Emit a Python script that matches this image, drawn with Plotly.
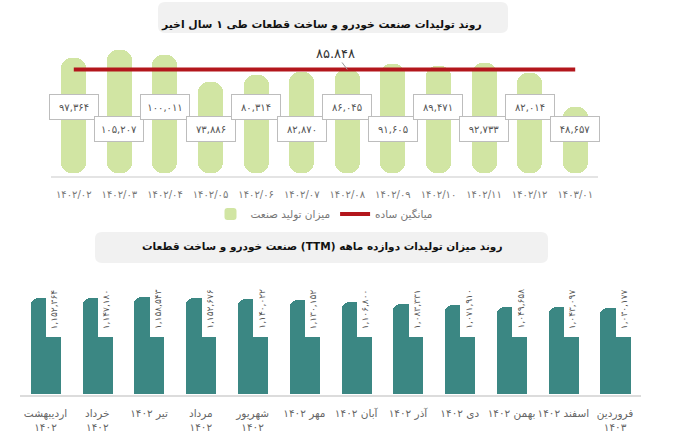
import plotly.graph_objects as go

W, H = 684, 444

# ---------------- data ----------------
top_dates = ["1402/02", "1402/03", "1402/04", "1402/05", "1402/06", "1402/07",
             "1402/08", "1402/09", "1402/10", "1402/11", "1402/12", "1403/01"]
top_values = [97364, 105207, 100011, 73886, 80314, 82870,
              86045, 91605, 89471, 92733, 82014, 48657]
avg_value = 85848
avg_label = "85.848"

ttm_months = ["اردیبهشت<br>1402", "خرداد<br>1402", "تیر 1402", "مرداد<br>1402",
              "شهریور<br>1402", "مهر 1402", "آبان 1402", "آذر 1402", "دی 1402",
              "بهمن 1402", "اسفند 1402", "فروردین<br>1403"]
ttm_values = [1152364, 1147180, 1158543, 1152676, 1140022, 1130152,
              1106800, 1083331, 1071910, 1049658, 1043097, 1030177]

title_top = "روند تولیدات صنعت خودرو و ساخت قطعات طی 1 سال اخیر"
title_bottom = "روند میزان تولیدات دوازده ماهه (TTM) صنعت خودرو و ساخت قطعات"
legend_bar = "میزان تولید صنعت"
legend_line = "میانگین ساده"

# ---------------- helpers ----------------
FA = str.maketrans("0123456789", "۰۱۲۳۴۵۶۷۸۹")


def fa(s):
    return str(s).translate(FA)


def fa_num(n):
    return fa(format(n, ","))


def rtl(s):
    return "\u202b" + s + "\u202c"


def px(x):
    return x / W


def py(y):
    return 1 - y / H


def rounded_rect(x0, y0, x1, y1, r):
    rx, ry = r / W, r / H
    X0, X1, Y0, Y1 = px(x0), px(x1), py(y0), py(y1)
    return (f"M {X0+rx},{Y0} L {X1-rx},{Y0} Q {X1},{Y0} {X1},{Y0-ry} "
            f"L {X1},{Y1+ry} Q {X1},{Y1} {X1-rx},{Y1} L {X0+rx},{Y1} "
            f"Q {X0},{Y1} {X0},{Y1+ry} L {X0},{Y0-ry} Q {X0},{Y0} {X0+rx},{Y0} Z")


FONT = "DejaVu Sans, sans-serif"
GREEN = "#d1e5a3"
RED = "#b3161c"
TEAL = "#3b8783"

top_cats = [fa(d) for d in top_dates]
bot_cats = [fa(m) for m in ttm_months]

BAR_FLOOR = -16900      # visual stub so bars start at the axis
NOTCH_BASE = 684000     # bottom of the white label notch in the TTM bars

fig = go.Figure()

# top chart bars
fig.add_trace(go.Bar(
    x=top_cats, y=[v - BAR_FLOOR for v in top_values], base=BAR_FLOOR,
    customdata=top_values, hovertemplate="%{customdata}<extra></extra>",
    width=0.55, marker=dict(color=GREEN, cornerradius=10, line=dict(width=0)),
    name=rtl(legend_bar), xaxis="x", yaxis="y"))

# average line
fig.add_trace(go.Scatter(
    x=top_cats, y=[avg_value] * len(top_cats), mode="lines",
    line=dict(color=RED, width=4), name=rtl(legend_line), xaxis="x", yaxis="y"))

# bottom chart bars
fig.add_trace(go.Bar(
    x=bot_cats, y=ttm_values, width=0.58, offset=-0.29,
    marker=dict(color=TEAL, cornerradius=8, line=dict(width=0)),
    showlegend=False, xaxis="x2", yaxis="y2"))

# white notch holding the labels
fig.add_trace(go.Bar(
    x=bot_cats, y=[v - NOTCH_BASE + 40000 for v in ttm_values], base=NOTCH_BASE,
    width=0.33, offset=0.005, hoverinfo="skip",
    marker=dict(color="white", line=dict(width=0)),
    showlegend=False, xaxis="x2", yaxis="y2"))

annotations = []

# titles
annotations.append(dict(text="<b>" + rtl(fa(title_top)) + "</b>", x=px(321), y=py(16),
                        xref="paper", yref="paper", showarrow=False,
                        font=dict(family=FONT, size=10.8, color="#111")))
annotations.append(dict(text="<b>" + rtl(title_bottom) + "</b>", x=px(322), y=py(246),
                        xref="paper", yref="paper", showarrow=False,
                        font=dict(family=FONT, size=10.5, color="#111")))

# top value labels
for i, (c, v) in enumerate(zip(top_cats, top_values)):
    annotations.append(dict(
        text=fa_num(v), x=c, y=0.507 if i % 2 == 0 else 0.25,
        xref="x", yref="y domain", showarrow=False,
        bgcolor="white", bordercolor="#bdbdbd", borderwidth=1, borderpad=5,
        width=38, height=14,
        font=dict(family=FONT, size=10, color="#555")))

# average label
annotations.append(dict(
    text=fa(avg_label), x=top_cats[6], y=avg_value, xref="x", yref="y",
    showarrow=True, arrowhead=0, arrowwidth=1, arrowcolor="#999",
    ax=-12, ay=-16, standoff=0,
    font=dict(family=FONT, size=13, color="#333")))

# bottom vertical value labels
for c, v in zip(bot_cats, ttm_values):
    annotations.append(dict(
        text=fa_num(v), x=c, y=NOTCH_BASE, xref="x2", yref="y2",
        showarrow=False, textangle=-90, yanchor="bottom", xanchor="center",
        xshift=9, yshift=6,
        font=dict(family=FONT, size=9, color="#555")))

shapes = [
    dict(type="path", path=rounded_rect(158, 2, 508, 33, 7), xref="paper", yref="paper",
         fillcolor="#f1f1f1", line=dict(width=0), layer="below"),
    dict(type="path", path=rounded_rect(95, 232, 548, 263, 7), xref="paper", yref="paper",
         fillcolor="#f1f1f1", line=dict(width=0), layer="below"),
]

fig.update_layout(
    width=W, height=H, margin=dict(l=0, r=0, t=0, b=0),
    paper_bgcolor="white", plot_bgcolor="white",
    barmode="overlay", bargap=0,
    font=dict(family=FONT, color="#666"),
    xaxis=dict(domain=[px(51), px(598)], anchor="y", type="category",
               range=[-0.5, 11.5], showgrid=False, zeroline=False,
               showline=True, linecolor="#e4e4e4", linewidth=2, ticks="",
               tickfont=dict(family=FONT, size=10, color="#777"),
               ticklabelstandoff=8, fixedrange=True),
    yaxis=dict(domain=[py(176), py(40)], anchor="x", range=[-19840, 115080],
               visible=False, fixedrange=True),
    xaxis2=dict(domain=[px(19.6), px(641)], anchor="y2", type="category",
                range=[-0.5, 11.5], showgrid=False, zeroline=False,
                showline=True, linecolor="#dcdcdc", linewidth=1.5, ticks="",
                tickfont=dict(family=FONT, size=10.5, color="#666"),
                ticklabelstandoff=8, fixedrange=True),
    yaxis2=dict(domain=[py(395), py(270)], anchor="x2", range=[-12000, 1488500],
                visible=False, fixedrange=True),
    legend=dict(orientation="h", x=px(324), xanchor="center", y=py(214),
                yanchor="middle", font=dict(family=FONT, size=10.5, color="#777"),
                bgcolor="rgba(0,0,0,0)", itemwidth=30),
    annotations=annotations,
    shapes=shapes,
    showlegend=True,
)

fig.write_html("out.html", config={"displayModeBar": False},
               post_script="document.body.style.margin='0';document.body.style.padding='0';")
